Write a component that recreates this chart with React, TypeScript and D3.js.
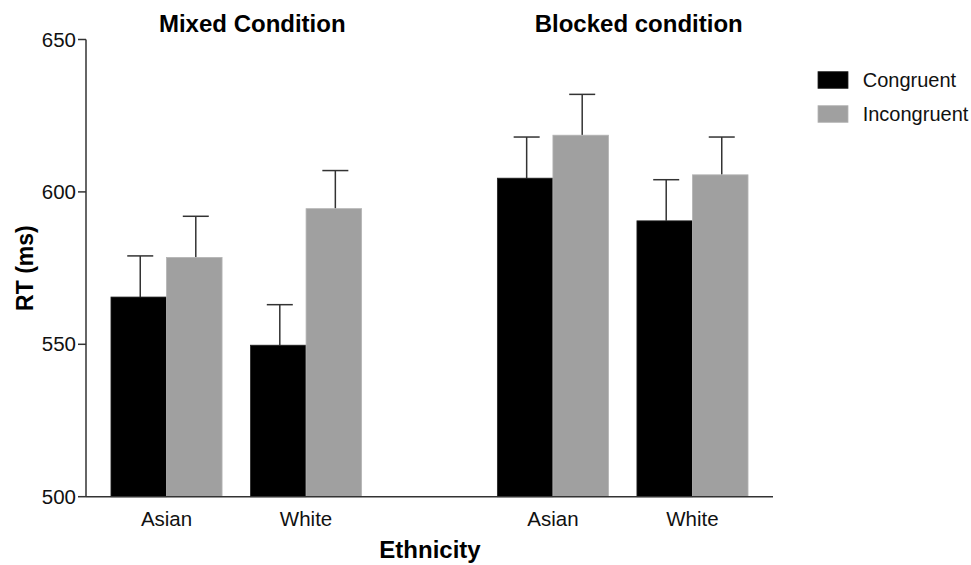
import * as d3 from 'd3';
import * as React from 'react';

// conditions, ethnicities and series
const conditions = ['Mixed Condition', 'Blocked condition'];
const ethnicities = ['Asian', 'White'];
const seriesNames = ['Congruent', 'Incongruent'];

// mean RT per condition x ethnicity, one array per series
const congruentMeans = [565.5, 549.7, 604.5, 590.5];
const incongruentMeans = [578.5, 594.5, 618.6, 605.6];
// error bar heights (upper SEM)
const congruentErr = [13.5, 13.3, 13.5, 13.5];
const incongruentErr = [13.5, 12.5, 13.4, 12.4];

const yTicks = [500, 550, 600, 650];

const colors = ['#000000', '#a0a0a0'];
const font = '"Liberation Sans", Arial, sans-serif';

const width = 971;
const height = 565;
const left = 86;
const right = 773;
const top = 39.5;
const bottom = 496.7;

export default function App() {
    const y = d3.scaleLinear().domain([500, 650]).range([bottom, top]);

    const xOuter = d3.scaleBand<string>()
        .domain(conditions)
        .range([left, right])
        .paddingInner(0.2777)
        .paddingOuter(0.0278);
    const xInner = d3.scaleBand<string>()
        .domain(ethnicities)
        .range([0, xOuter.bandwidth()])
        .paddingInner(0.204)
        .paddingOuter(0.102);
    const xSeries = d3.scaleBand<string>()
        .domain(seriesNames)
        .range([0, xInner.bandwidth()]);

    const means = [congruentMeans, incongruentMeans];
    const errs = [congruentErr, incongruentErr];

    const bars: React.ReactNode[] = [];
    const errors: React.ReactNode[] = [];
    conditions.forEach((c, ci) => {
        ethnicities.forEach((e, ei) => {
            const idx = ci * ethnicities.length + ei;
            seriesNames.forEach((s, si) => {
                const x0 = (xOuter(c) || 0) + (xInner(e) || 0) + (xSeries(s) || 0);
                const v = means[si][idx];
                const bw = xSeries.bandwidth();
                bars.push(
                    <rect key={`b-${idx}-${si}`} x={x0} y={y(v)} width={bw} height={bottom - y(v)}
                        fill={colors[si]} stroke={si === 1 ? '#b4b4b4' : '#222'} strokeWidth={0.8} />
                );
                const cx = x0 + bw / 2 + 1.5;
                const yTop = y(v + errs[si][idx]);
                errors.push(
                    <g key={`e-${idx}-${si}`} stroke="#333" strokeWidth={1.5}>
                        <line x1={cx} x2={cx} y1={y(v)} y2={yTop} />
                        <line x1={cx - 13} x2={cx + 13} y1={yTop} y2={yTop} />
                    </g>
                );
            });
        });
    });

    return (
        <svg width={width} height={height} style={{ position: 'absolute', left: 0, top: 0, background: '#fff' }}
            fontFamily={font}>
            {errors}
            {bars}
            {/* y axis */}
            <line x1={left} x2={left} y1={top} y2={bottom} stroke="#333" strokeWidth={1.5} />
            {yTicks.map(t => (
                <g key={t}>
                    <line x1={left - 8} x2={left} y1={y(t)} y2={y(t)} stroke="#333" strokeWidth={1.5} />
                    <text x={left - 10} y={y(t)} dy="0.35em" textAnchor="end" fontSize={20.5} fill="#111">{t}</text>
                </g>
            ))}
            {/* x axis */}
            <line x1={left} x2={right} y1={bottom} y2={bottom} stroke="#333" strokeWidth={1.5} />
            {conditions.map(c => ethnicities.map(e => (
                <text key={`${c}-${e}`} x={(xOuter(c) || 0) + (xInner(e) || 0) + xInner.bandwidth() / 2}
                    y={526} textAnchor="middle" fontSize={20.5} fill="#111">{e}</text>
            )))}
            {conditions.map(c => (
                <text key={c} x={(xOuter(c) || 0) + xOuter.bandwidth() / 2 + 16} y={32} textAnchor="middle"
                    fontSize={24} fontWeight="bold" fill="#000">{c}</text>
            ))}
            <text x={430} y={558} textAnchor="middle" fontSize={24} fontWeight="bold">Ethnicity</text>
            <text transform={`translate(33,${(top + bottom) / 2}) rotate(-90)`} textAnchor="middle"
                fontSize={23} fontWeight="bold">RT (ms)</text>
            {/* legend */}
            {seriesNames.map((s, i) => (
                <g key={s} transform={`translate(818,${71.7 + i * 34})`}>
                    <rect width={30} height={16.6} fill={colors[i]} stroke={i === 1 ? '#b4b4b4' : '#222'} strokeWidth={0.8} />
                    <text x={44.7} y={8.3} dy="0.35em" fontSize={20} fill="#111">{s}</text>
                </g>
            ))}
        </svg>
    );
}
